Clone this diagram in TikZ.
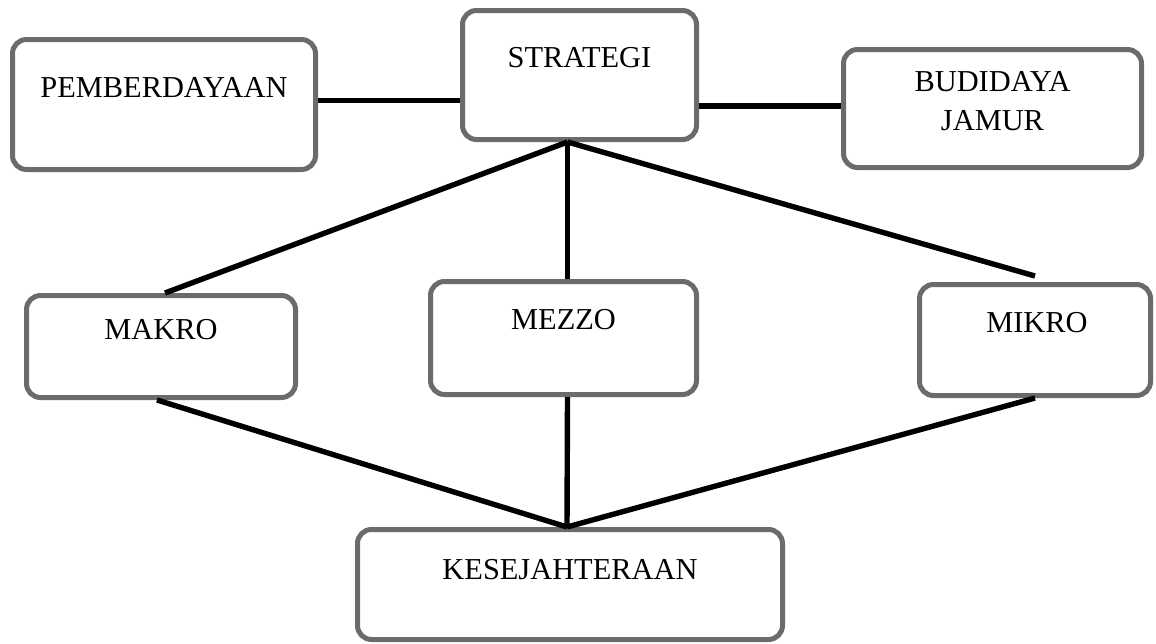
\documentclass[tikz,border=0pt]{standalone}
\usepackage{fontspec}
\setmainfont{Liberation Serif}
\usepackage{tikz}
\definecolor{boxgray}{RGB}{107,107,107}
\tikzstyle{contour} = [draw=boxgray,line width=2.5pt,rectangle,rounded corners=7pt,inner sep=0,fill=white]
\tikzstyle{word} = [inner sep=0,align=center,font=\fontsize{15.2}{19.5}\selectfont]
\tikzstyle{link} = [-,line width=2.7pt,black]

\begin{document}
\begin{tikzpicture}[x=0.5pt,y=-0.5pt]
  \useasboundingbox (0,0) rectangle (1156,643);
  % boxes
  \node[contour,minimum width=151.5pt,minimum height=65pt] (pem) at (164,104.5) {};
  \node[contour,minimum width=117pt,minimum height=64.5pt] (strat) at (579.5,75) {};
  \node[contour,minimum width=149pt,minimum height=59pt] (bud) at (992.5,108.5) {};
  \node[contour,minimum width=134.5pt,minimum height=51pt] (makro) at (161,346.5) {};
  \node[contour,minimum width=133pt,minimum height=56.5pt] (mezzo) at (563.5,338) {};
  \node[contour,minimum width=115.5pt,minimum height=55.5pt] (mikro) at (1035,340) {};
  \node[contour,minimum width=212.5pt,minimum height=55pt] (kes) at (570,584.5) {};
  % texts
  \node[word] (pemtxt) at ([yshift=-25.25pt]pem.north) {PEMBERDAYAAN};
  \node[word] (strattxt) at ([yshift=-24.75pt]strat.north) {STRATEGI};
  \node[word] (budtxt) at ([yshift=-27pt]bud.north) {BUDIDAYA\\JAMUR};
  \node[word] (makrotxt) at ([yshift=-18.25pt]makro.north) {MAKRO};
  \node[word] (mezzotxt) at ([yshift=-20.25pt]mezzo.north) {MEZZO};
  \node[word] (mikrotxt) at ([xshift=1pt,yshift=-20.25pt]mikro.north) {MIKRO};
  \node[word] (kestxt) at ([yshift=-21.25pt]kes.north) {KESEJAHTERAAN};
  % connectors
  \coordinate (top) at ([xshift=-6pt]strat.south);
  \coordinate (bot) at ([xshift=-1.5pt]kes.north);
  \draw[link] ([yshift=2pt]pem.east) -- ([yshift=2pt]pem.east -| strat.west);
  \draw[link] ([yshift=1.25pt]bud.west -| strat.east) -- ([yshift=1.25pt]bud.west);
  \draw[link] (top) -- ([xshift=2pt]makro.north);
  \draw[link] (top) -- ([xshift=2pt]mezzo.north);
  \draw[link] (top) -- ([yshift=3pt]mikro.north);
  \draw[link] ([xshift=-2pt]makro.south) -- (bot);
  \draw[link] ([xshift=2pt]mezzo.south) -- (bot);
  \draw[link] (mikro.south) -- (bot);
\end{tikzpicture}
\end{document}
